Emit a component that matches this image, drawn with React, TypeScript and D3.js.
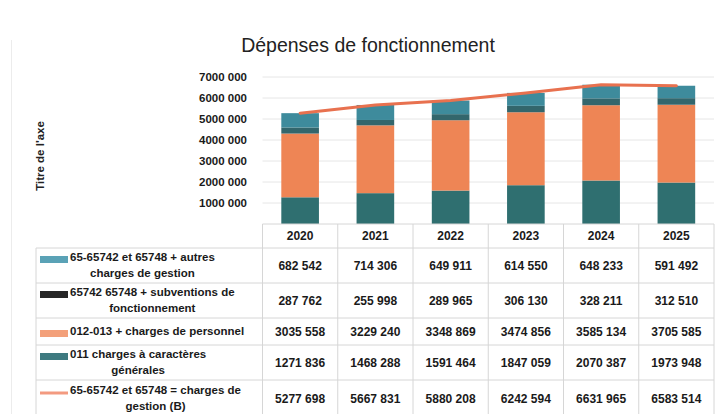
import React from 'react';
import * as d3 from 'd3';

const years = ['2020', '2021', '2022', '2023', '2024', '2025'];
const autres = [682542, 714306, 649911, 614550, 648233, 591492];
const subventions = [287762, 255998, 289965, 306130, 328211, 312510];
const personnel = [3035558, 3229240, 3348869, 3474856, 3585134, 3705585];
const generales = [1271836, 1468288, 1591464, 1847059, 2070387, 1973948];
const gestion = [5277698, 5667831, 5880208, 6242594, 6631965, 6583514];
const yTicks = [1000000, 2000000, 3000000, 4000000, 5000000, 6000000, 7000000];

const legendRows = [
  { lines: ['65-65742 et 65748 + autres', 'charges de gestion'], values: autres, key: 'autres' },
  { lines: ['65742 65748 + subventions de', 'fonctionnement'], values: subventions, key: 'subventions' },
  { lines: ['012-013 + charges de personnel'], values: personnel, key: 'personnel' },
  { lines: ['011 charges à caractères', 'générales'], values: generales, key: 'generales' },
  { lines: ['65-65742 et 65748 = charges de', 'gestion (B)'], values: gestion, key: 'gestion' },
];

const barColors: Record<string, string> = {
  generales: '#2f6f70',
  personnel: '#ee8555',
  subventions: '#33666c',
  autres: '#3e8b9c',
};
const keyColors: Record<string, string> = {
  autres: '#5aa2b6',
  subventions: '#262626',
  personnel: '#f3a07a',
  generales: '#3e7a80',
  gestion: '#f39a80',
};
const lineColor = '#e8714f';

const fmt = (n: number) => {
  if (n < 1000) return String(n);
  const hi = Math.floor(n / 1000);
  const lo = String(n % 1000).padStart(3, '0');
  return `${hi} ${lo}`;
};

const FONT = '"Liberation Sans", Arial, sans-serif';

function measure(text: string, font: string) {
  if (typeof document === 'undefined') return text.length * 6.5;
  const c = document.createElement('canvas');
  const ctx = c.getContext('2d');
  if (!ctx) return text.length * 6.5;
  ctx.font = font;
  return ctx.measureText(text).width;
}

export default function App() {
  const W = 720;
  const H = 414;
  const plotLeft = 262.5;
  const plotRight = 714;

  const x = d3.scaleBand<string>().domain(years).range([plotLeft, plotRight]).paddingInner(0.5).paddingOuter(0.25);
  const y = d3.scaleLinear().domain([0, 7000000]).range([224, 77]);

  const seriesOrder = ['generales', 'personnel', 'subventions', 'autres'];
  const table = years.map((yr, i) => ({
    year: yr,
    generales: generales[i],
    personnel: personnel[i],
    subventions: subventions[i],
    autres: autres[i],
  }));
  const stack = d3.stack<any>().keys(seriesOrder)(table);

  const line = d3
    .line<number>()
    .x((_, i) => (x(years[i]) as number) + x.bandwidth() / 2)
    .y((d) => y(d));

  const headerTop = 224;
  const rowBounds = [
    [248, 283],
    [283, 318],
    [318, 345],
    [345, 380],
    [380, 418],
  ];
  const step = x.step();
  const colEdges = years.map((_, i) => plotLeft + i * step);
  colEdges.push(plotLeft + years.length * step);

  const legendFont = `bold 11.5px ${FONT}`;
  const textStart = 70;
  const lineGap = 16;

  return (
    <svg width={W} height={H} style={{ position: 'absolute', left: 0, top: 0, background: '#fff' }} fontFamily={FONT}>
      <rect x={0} y={0} width={W} height={H} fill="#fff" />
      <line x1={11.5} y1={40} x2={11.5} y2={H} stroke="#ececec" strokeWidth={1} />

      <text x={368} y={52} textAnchor="middle" fontSize={19.5} fill="#222">
        Dépenses de fonctionnement
      </text>

      <text
        transform={`translate(44,156) rotate(-90)`}
        textAnchor="middle"
        fontSize={11.5}
        fontWeight="bold"
        fill="#222"
      >
        Titre de l'axe
      </text>

      {yTicks.map((t) => (
        <line key={t} x1={plotLeft} x2={plotRight} y1={y(t)} y2={y(t)} stroke="#e6e6e6" strokeWidth={1} />
      ))}

      {yTicks.map((t) => (
        <text key={'l' + t} x={247} y={y(t) + 4} textAnchor="end" fontSize={11.5} fontWeight="bold" fill="#1a1a1a">
          {fmt(t)}
        </text>
      ))}

      {stack.map((s) => (
        <g key={s.key} fill={barColors[s.key]}>
          {s.map((d, i) => (
            <rect
              key={i}
              x={x(years[i]) as number}
              y={y(d[1])}
              width={x.bandwidth()}
              height={y(d[0]) - y(d[1])}
            />
          ))}
        </g>
      ))}

      <path d={line(gestion) || ''} fill="none" stroke={lineColor} strokeWidth={3} strokeLinejoin="round" strokeLinecap="round" />

      <g stroke="#d6d6d6" strokeWidth={1}>
        {colEdges.map((cx, i) => (
          <line key={'v' + i} x1={cx} x2={cx} y1={headerTop} y2={H} />
        ))}
        <line x1={36} x2={36} y1={rowBounds[0][0]} y2={H} />
        <line x1={plotLeft} x2={plotRight} y1={headerTop} y2={headerTop} />
        {rowBounds.map((r, i) => (
          <line key={'h' + i} x1={36} x2={plotRight} y1={r[0]} y2={r[0]} />
        ))}
      </g>

      {years.map((yr) => (
        <text
          key={'y' + yr}
          x={(x(yr) as number) + x.bandwidth() / 2}
          y={240}
          textAnchor="middle"
          fontSize={12}
          fontWeight="bold"
          fill="#1a1a1a"
        >
          {yr}
        </text>
      ))}

      {legendRows.map((row, ri) => {
        const [top, bottom] = rowBounds[ri];
        const mid = (top + bottom) / 2;
        const widths = row.lines.map((l) => measure(l, legendFont));
        const maxW = Math.max(...widths);
        const cx = textStart + maxW / 2;
        const firstY = mid - ((row.lines.length - 1) * lineGap) / 2 + 3;
        return (
          <g key={row.key}>
            {row.key === 'gestion' ? (
              <line x1={40} x2={68} y1={firstY - 1} y2={firstY - 1} stroke={keyColors[row.key]} strokeWidth={3} />
            ) : (
              <rect x={40} y={firstY - 4.5} width={28} height={7} fill={keyColors[row.key]} />
            )}
            {row.lines.map((l, li) => (
              <text
                key={li}
                x={cx}
                y={firstY + li * lineGap}
                textAnchor="middle"
                fontSize={11.5}
                fontWeight="bold"
                fill="#1a1a1a"
              >
                {l}
              </text>
            ))}
            {row.values.map((v, i) => (
              <text
                key={'v' + i}
                x={(x(years[i]) as number) + x.bandwidth() / 2}
                y={mid + 4}
                textAnchor="middle"
                fontSize={12}
                fontWeight="bold"
                fill="#1a1a1a"
              >
                {fmt(v)}
              </text>
            ))}
          </g>
        );
      })}
    </svg>
  );
}
